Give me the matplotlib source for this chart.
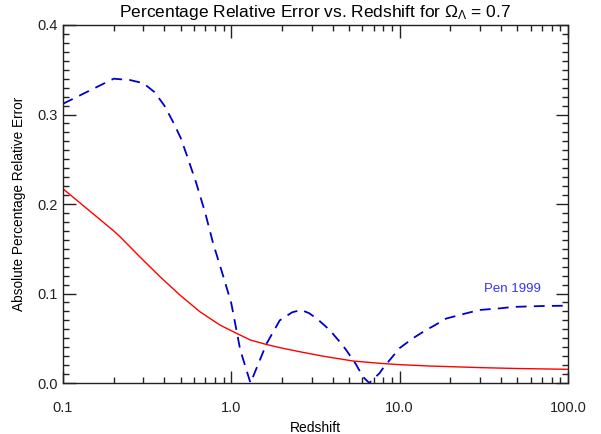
import matplotlib
matplotlib.use("Agg")
import matplotlib.pyplot as plt
import matplotlib.ticker as ticker
import numpy as np

plt.rcParams["font.family"] = ["Liberation Sans", "DejaVu Sans"]
plt.rcParams["mathtext.fontset"] = "custom"
plt.rcParams["mathtext.rm"] = "Liberation Sans"
plt.rcParams["mathtext.it"] = "Liberation Sans"
plt.rcParams["mathtext.default"] = "regular"

# 赤線（実線）
z_red = [0.1, 0.2, 0.218, 0.286, 0.376, 0.495, 0.65, 0.855, 1.074, 1.3, 1.62, 2.0,
         2.54, 3.5, 5.28, 7.6, 10.0, 15.0, 30.0, 50.0, 100.0]
err_red = [0.217, 0.170, 0.1635, 0.141, 0.119, 0.0983, 0.0797, 0.0648, 0.0555,
           0.048, 0.043, 0.039, 0.035, 0.030, 0.0246, 0.022, 0.0205, 0.019, 0.0172,
           0.0162, 0.0153]

# Pen 1999（破線）
z_pen = [0.1, 0.2, 0.25, 0.3, 0.35, 0.4, 0.45, 0.5, 0.55, 0.62, 0.7, 0.78, 0.9,
         1.0, 1.13, 1.3, 1.62, 1.94, 2.3, 2.6, 2.9, 3.22, 3.5, 3.85, 4.5, 4.81,
         5.5, 6.05, 6.6, 7.6, 8.0, 10.0, 12.0, 14.3, 16.0, 18.9, 25.0, 29.8, 40.0,
         47.0, 70.0, 100.0]
err_pen = [0.312, 0.340, 0.3385, 0.335, 0.325, 0.310, 0.292, 0.274, 0.252, 0.223,
           0.190, 0.156, 0.118, 0.089, 0.037, 0.0, 0.044, 0.070, 0.079, 0.0816,
           0.078, 0.072, 0.066, 0.059, 0.044, 0.037, 0.021, 0.007, 0.0, 0.011,
           0.017, 0.039, 0.050, 0.059, 0.064, 0.072, 0.078, 0.0816, 0.0835, 0.085,
           0.086, 0.0864]

fig = plt.figure(figsize=(6.01, 4.34), dpi=100)
ax = fig.add_axes([0.1048, 0.1175, 0.8402, 0.8249])

ax.plot(z_red, err_red, color="#ff0000", lw=1.0)
ax.plot(z_pen, err_pen, color="#0000cc", lw=1.3, dashes=(6, 4))
ax.text(31.5, 0.105, "Pen 1999", color="#3333ff", fontsize=9.5, ha="left", va="center")

ax.set_xscale("log")
ax.set_xlim(0.1, 100)
ax.set_ylim(0.0, 0.4)
ax.set_xticks([0.1, 1, 10, 100])
ax.set_xticklabels(["0.1", "1.0", "10.0", "100.0"])
ax.xaxis.set_minor_locator(ticker.LogLocator(base=10, subs=np.arange(2, 10)))
ax.xaxis.set_minor_formatter(ticker.NullFormatter())
ax.set_yticks([0.0, 0.1, 0.2, 0.3, 0.4])
ax.yaxis.set_major_formatter(ticker.FormatStrFormatter("%.1f"))
ax.yaxis.set_minor_locator(ticker.MultipleLocator(0.01))

ax.tick_params(which="both", direction="in", top=True, right=True, colors="#222222",
               labelsize=10.5)
ax.tick_params(which="major", length=9, width=1)
ax.tick_params(which="minor", length=4.5, width=1)
ax.tick_params(axis="x", which="major", pad=13)
ax.tick_params(axis="y", which="major", pad=4)
for s in ax.spines.values():
    s.set_color("#222222")
    s.set_linewidth(1.0)

ax.set_xlabel("Redshift", fontsize=10, labelpad=4)
ax.set_ylabel("Absolute Percentage Relative Error", fontsize=9.8, labelpad=8)
ax.set_title(r"Percentage Relative Error vs. Redshift for $\Omega_\Lambda$ = 0.7",
             fontsize=12.5, pad=6)

fig.savefig("out.png", dpi=100)
